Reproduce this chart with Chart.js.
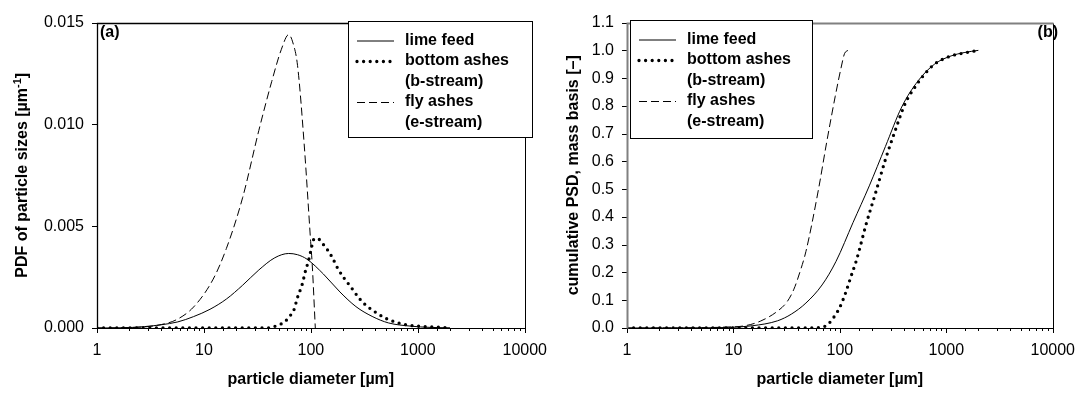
<!DOCTYPE html>
<html>
<head>
<meta charset="utf-8">
<script src="https://cdn.jsdelivr.net/npm/chart.js@4.4.0/dist/chart.umd.min.js"></script>
<style>
  html, body { margin: 0; padding: 0; background: #fff; }
  #wrap { position: relative; width: 1088px; height: 396px; overflow: hidden; }
  .panel { position: absolute; top: 0; height: 396px; }
  #pa { left: 0; width: 560px; }
  #pb { left: 540px; width: 548px; }
</style>
</head>
<body>
<div id="wrap">
  <div class="panel" id="pa"><canvas id="chartA"></canvas></div>
  <div class="panel" id="pb"><canvas id="chartB"></canvas></div>
</div>
<script>
// --- (a) PDF of particle sizes ---
const limeD = [1, 2, 2.8, 4, 5.7, 8, 11.4, 16.2, 23, 32.6, 46, 62, 75, 92, 131, 187, 264, 374, 531, 862, 1300, 2000];
const limePdf = [0, 0.00002, 0.00007, 0.00016, 0.0003, 0.00056, 0.00092, 0.00142, 0.0021, 0.00285, 0.00345, 0.00366, 0.0036, 0.00338, 0.00265, 0.00177, 0.00105, 0.00057, 0.00025, 0.00009, 0.00003, 0.00001];

const bottomD = [1, 40, 49, 57, 63, 69, 75, 83, 89, 95, 100, 106, 114, 131, 156, 180, 207, 237, 284, 325, 415, 495, 610, 752, 1000, 1500, 2000];
const bottomPdf = [0, 0, 0.00014, 0.0003, 0.00057, 0.00085, 0.0015, 0.00215, 0.0028, 0.0033, 0.0038, 0.00434, 0.00441, 0.0041, 0.00353, 0.00289, 0.00241, 0.00201, 0.00145, 0.00113, 0.00073, 0.00049, 0.0003, 0.00017, 0.00009, 0.00004, 0.00001];

const flyD = [1, 2, 3, 4, 5.5, 8, 12.2, 16.2, 23, 32.6, 43, 53, 62, 68, 75, 86.5, 99.5, 103, 110];
const flyPdf = [0, 0.00002, 0.00007, 0.00017, 0.0004, 0.00103, 0.0024, 0.0039, 0.0064, 0.0097, 0.0121, 0.01369, 0.01441, 0.014, 0.0129, 0.00905, 0.00425, 0.0031, 0];

// --- (b) cumulative PSD, mass basis ---
const limeCumD = [1, 3, 5, 9, 15, 26, 35, 48, 68, 92, 133, 189, 268, 381, 545, 779, 1110, 1470, 2000];
const limeCum = [0, 0.0003, 0.0008, 0.002, 0.008, 0.026, 0.05, 0.09, 0.155, 0.24, 0.38, 0.512, 0.654, 0.796, 0.891, 0.951, 0.98, 0.992, 1.0];

const bottomCumD = [1, 50, 68, 78, 90, 100, 114, 127, 142, 152, 175, 217, 268, 333, 411, 508, 627, 779, 1110, 1440, 2000];
const bottomCum = [0, 0, 0.003, 0.015, 0.045, 0.075, 0.13, 0.185, 0.24, 0.28, 0.369, 0.488, 0.607, 0.714, 0.809, 0.868, 0.915, 0.951, 0.98, 0.99, 1.0];

const flyCumD = [1, 3, 5, 8, 12.8, 18, 26, 32, 37, 42, 48, 63, 75, 90.5, 103, 110.5, 119];
const flyCum = [0, 0.0002, 0.001, 0.003, 0.008, 0.025, 0.061, 0.095, 0.14, 0.2, 0.276, 0.5, 0.667, 0.835, 0.94, 0.988, 1.0];

const seriesNames = [["lime feed"], ["bottom ashes", "(b-stream)"], ["fly ashes", "(e-stream)"]];
const xTickValues = [1, 10, 100, 1000, 10000];

const FONT = '"Liberation Sans", Arial, Helvetica, sans-serif';
Chart.defaults.font.family = FONT;
Chart.defaults.color = "#000";

const STYLES = [
  { borderColor: "#000", borderWidth: 1, borderDash: [] },
  { borderColor: "#000", borderWidth: 3.3, borderDash: [0, 6.6], borderCapStyle: "round" },
  { borderColor: "#000", borderWidth: 1, borderDash: [8, 4] }
];

function pts(ds, vs) {
  return ds.map((d, i) => ({ x: d, y: vs[i] }));
}

function isPow10(v) {
  const l = Math.log10(v);
  return Math.abs(l - Math.round(l)) < 1e-9;
}

function makeSets(series) {
  return series.map((s, i) => Object.assign({
    label: seriesNames[i].join(" "),
    data: s,
    pointRadius: 0,
    fill: false,
    cubicInterpolationMode: "monotone"
  }, STYLES[i]));
}

// frame, tick marks, legend box, panel letter and y title
function decoPlugin(cfg) {
  return {
    id: "deco" + cfg.letter,
    afterDraw(chart) {
      const ctx = chart.ctx;
      const a = chart.chartArea;
      const xs = chart.scales.x, ys = chart.scales.y;
      ctx.save();
      ctx.setLineDash([]);
      ctx.lineWidth = 1;
      ctx.strokeStyle = "#000";

      xs.ticks.forEach(t => {
        const px = Math.round(xs.getPixelForValue(t.value)) + 0.5;
        const len = isPow10(t.value) ? 5 : 3;
        ctx.beginPath(); ctx.moveTo(px, a.bottom); ctx.lineTo(px, a.bottom + len); ctx.stroke();
      });
      ys.ticks.forEach(t => {
        const py = Math.round(ys.getPixelForValue(t.value)) + 0.5;
        ctx.beginPath(); ctx.moveTo(a.left - 5, py); ctx.lineTo(a.left, py); ctx.stroke();
      });

      // plot box
      const L = Math.round(a.left) + 0.5, R = Math.round(a.right) + 0.5;
      const T = Math.round(a.top) + 0.5, B = Math.round(a.bottom) + 0.5;
      ctx.strokeStyle = "#000";
      ctx.beginPath(); ctx.moveTo(R, T); ctx.lineTo(R, B); ctx.lineTo(L, B); ctx.stroke();
      ctx.strokeStyle = cfg.greyFrame ? "#808080" : "#000";
      ctx.lineWidth = cfg.greyFrame ? 2 : 1.3;
      ctx.beginPath(); ctx.moveTo(L, B); ctx.lineTo(L, T); ctx.lineTo(R, T); ctx.stroke();

      // legend
      const lg = cfg.legend;
      ctx.fillStyle = "#fff";
      ctx.fillRect(lg.x, lg.y, lg.w, lg.h);
      ctx.strokeStyle = "#000";
      ctx.lineWidth = 1;
      ctx.strokeRect(lg.x + 0.5, lg.y + 0.5, lg.w, lg.h);
      ctx.font = "bold 16px " + FONT;
      ctx.textBaseline = "middle";
      ctx.textAlign = "left";
      ctx.fillStyle = "#000";
      let row = 0;
      chart.data.datasets.forEach((ds, i) => {
        const y = lg.y + 19.5 + row * 20.5;
        ctx.save();
        ctx.strokeStyle = ds.borderColor;
        ctx.lineWidth = ds.borderWidth;
        ctx.setLineDash(ds.borderDash || []);
        ctx.lineCap = ds.borderCapStyle || "butt";
        ctx.beginPath(); ctx.moveTo(lg.x + 9, y + 0.5); ctx.lineTo(lg.x + 46, y + 0.5); ctx.stroke();
        ctx.restore();
        seriesNames[i].forEach(txt => {
          ctx.fillText(txt, lg.x + 57, lg.y + 19.5 + row * 20.5);
          row++;
        });
      });

      // panel letter
      ctx.font = "bold 16px " + FONT;
      ctx.textBaseline = "alphabetic";
      ctx.textAlign = cfg.letterAlign;
      ctx.fillText(cfg.letter, cfg.letterX, 37);

      // y axis title, rotated, with optional superscript
      const cy = (a.top + a.bottom) / 2;
      ctx.translate(cfg.titleX, cy);
      ctx.rotate(-Math.PI / 2);
      ctx.textAlign = "left";
      ctx.textBaseline = "middle";
      const fMain = "bold 16px " + FONT, fSup = "bold 11px " + FONT;
      const parts = cfg.yTitle;
      let total = 0;
      parts.forEach(p => { ctx.font = p.sup ? fSup : fMain; total += ctx.measureText(p.t).width; });
      let x = -total / 2;
      parts.forEach(p => {
        ctx.font = p.sup ? fSup : fMain;
        ctx.fillText(p.t, x, p.sup ? -5 : 0);
        x += ctx.measureText(p.t).width;
      });
      ctx.restore();
    }
  };
}

function makeOptions(cfg) {
  return {
    responsive: true,
    maintainAspectRatio: false,
    animation: false,
    devicePixelRatio: 1,
    layout: { padding: cfg.padding },
    plugins: { legend: { display: false }, tooltip: { enabled: false } },
    scales: {
      x: {
        type: "logarithmic",
        min: 1,
        max: 10000,
        grid: { display: false, drawTicks: false },
        border: { display: false },
        ticks: {
          autoSkip: false,
          maxRotation: 0,
          padding: 13,
          font: { size: 16 },
          color: "#000",
          callback: v => (xTickValues.includes(v) ? String(v) : "")
        },
        title: {
          display: true,
          text: "particle diameter [µm]",
          font: { size: 16, weight: "bold" },
          color: "#000",
          padding: { top: 0, bottom: 7 }
        },
        afterFit: s => { s.height = 68; }
      },
      y: {
        min: 0,
        max: cfg.yMax,
        grid: { display: false, drawTicks: false },
        border: { display: false },
        ticks: {
          stepSize: cfg.yStep,
          padding: 13,
          font: { size: 16 },
          color: "#000",
          callback: v => v.toFixed(cfg.yDigits)
        },
        afterFit: s => { s.width = cfg.yWidth; }
      }
    }
  };
}

new Chart(document.getElementById("chartA"), {
  type: "line",
  data: { datasets: makeSets([pts(limeD, limePdf), pts(bottomD, bottomPdf), pts(flyD, flyPdf)]) },
  options: makeOptions({ padding: { left: 0, right: 23, top: 17, bottom: 0 }, yMax: 0.015, yStep: 0.005, yDigits: 3, yWidth: 97 }),
  plugins: [decoPlugin({
    letter: "(a)", letterAlign: "left", letterX: 100, greyFrame: false,
    legend: { x: 348, y: 21, w: 184, h: 116 },
    titleX: 23,
    yTitle: [{ t: "PDF of particle sizes [µm" }, { t: "-1", sup: true }, { t: "]" }]
  })]
});

new Chart(document.getElementById("chartB"), {
  type: "line",
  data: { datasets: makeSets([pts(limeCumD, limeCum), pts(bottomCumD, bottomCum), pts(flyCumD, flyCum)]) },
  options: makeOptions({ padding: { left: 0, right: 28, top: 18, bottom: 0 }, yMax: 1.1, yStep: 0.1, yDigits: 1, yWidth: 87 }),
  plugins: [decoPlugin({
    letter: "(b)", letterAlign: "right", letterX: 518, greyFrame: true,
    legend: { x: 90, y: 20, w: 182, h: 118 },
    titleX: 34,
    yTitle: [{ t: "cumulative PSD, mass basis [–]" }]
  })]
});
</script>
</body>
</html>
